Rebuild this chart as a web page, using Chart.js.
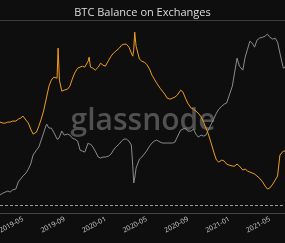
<!DOCTYPE html>
<html>
<head>
<meta charset="utf-8">
<script src="https://cdn.jsdelivr.net/npm/chart.js@4/dist/chart.umd.min.js"></script>
<style>
  html, body { margin: 0; padding: 0; background: #0e0e0e; }
  #wrap { width: 285px; height: 243px; position: relative; }
</style>
</head>
<body>
<div id="wrap"><canvas id="c"></canvas></div>
<script>
// ---- data ----
const chartTitle = 'BTC Balance on Exchanges';
const watermark = 'glassnode';

const dates = [
  '2019-02-13','2019-02-22','2019-03-01','2019-03-08','2019-03-15','2019-03-22',
  '2019-04-01','2019-04-08','2019-04-15','2019-04-22',
  '2019-05-01','2019-05-08','2019-05-15','2019-05-22',
  '2019-06-01','2019-06-08','2019-06-15','2019-06-22',
  '2019-07-01','2019-07-08','2019-07-15','2019-07-22',
  '2019-08-01','2019-08-04','2019-08-08','2019-08-15','2019-08-22',
  '2019-09-01','2019-09-08','2019-09-15','2019-09-22',
  '2019-10-01','2019-10-08','2019-10-15','2019-10-22',
  '2019-11-01','2019-11-04','2019-11-08','2019-11-15','2019-11-22',
  '2019-12-01','2019-12-08','2019-12-15','2019-12-22',
  '2020-01-01','2020-01-08','2020-01-15','2020-01-22',
  '2020-02-01','2020-02-08','2020-02-15','2020-02-22',
  '2020-03-01','2020-03-08','2020-03-12','2020-03-15','2020-03-18','2020-03-22',
  '2020-04-01','2020-04-08','2020-04-15','2020-04-22',
  '2020-05-01','2020-05-08','2020-05-15','2020-05-22',
  '2020-06-01','2020-06-08','2020-06-15','2020-06-22',
  '2020-07-01','2020-07-08','2020-07-15','2020-07-22',
  '2020-08-01','2020-08-08','2020-08-15','2020-08-22',
  '2020-09-01','2020-09-08','2020-09-15','2020-09-22',
  '2020-10-01','2020-10-08','2020-10-15','2020-10-22',
  '2020-11-01','2020-11-08','2020-11-15','2020-11-22',
  '2020-12-01','2020-12-08','2020-12-15','2020-12-22',
  '2021-01-01','2021-01-08','2021-01-15','2021-01-22',
  '2021-02-01','2021-02-08','2021-02-15','2021-02-22',
  '2021-03-01','2021-03-08','2021-03-15','2021-03-22',
  '2021-04-01','2021-04-08','2021-04-15','2021-04-22',
  '2021-05-01','2021-05-08','2021-05-15','2021-05-22',
  '2021-06-01','2021-06-06'
];

// BTC held on exchanges (million BTC)
const balance = [
  2.745,2.740,2.740,2.745,2.745,2.750,
  2.750,2.760,2.765,2.775,
  2.755,2.740,2.710,2.685,
  2.695,2.725,2.760,2.800,
  2.870,2.925,2.955,2.970,
  2.965,3.115,2.955,2.900,2.905,
  2.910,2.925,2.960,2.990,
  3.015,3.020,3.025,3.020,
  3.050,3.070,3.020,3.015,3.005,
  3.020,3.040,3.030,3.025,
  3.055,3.075,3.090,3.100,
  3.115,3.130,3.135,3.135,
  3.120,3.090,3.075,3.105,3.195,3.125,
  3.060,3.050,3.045,3.035,
  3.010,2.980,2.960,2.940,
  2.915,2.900,2.885,2.865,
  2.860,2.865,2.870,2.880,
  2.905,2.895,2.865,2.840,
  2.815,2.810,2.800,2.790,
  2.770,2.745,2.715,2.685,
  2.630,2.590,2.555,2.545,
  2.555,2.550,2.535,2.530,
  2.525,2.525,2.535,2.525,
  2.505,2.510,2.500,2.495,
  2.490,2.485,2.475,2.465,
  2.445,2.425,2.410,2.415,
  2.435,2.455,2.475,2.580,
  2.600,2.600
];

// BTC price (USD)
const price = [
  3600,3730,3790,3860,3790,3930,
  4000,4530,4780,5040,
  5310,5700,6230,7310,
  7980,8420,9530,10790,
  12660,11790,11790,10980,
  9700,9700,10050,11180,10410,
  10600,10410,9870,9700,
  9360,7980,7840,7700,
  9040,8880,8880,8420,7840,
  7050,6930,7050,7050,
  7180,7440,7980,8420,
  8880,9360,9700,9700,
  9360,8720,6120,4450,4860,5800,
  6810,7050,7440,7840,
  8570,9040,9360,9530,
  9200,9040,9040,9040,
  9040,9040,9200,10050,
  11380,11580,11790,11180,
  11180,11580,10600,10050,
  10410,10230,10410,11380,
  12880,14070,15380,16500,
  17400,18030,18350,20770,
  24800,31780,40720,35350,
  32920,41450,47770,55030,
  53120,49500,56010,58030,
  59070,60130,62300,59070,
  57020,58030,54060,44480,
  34120,34730
];

const tickLabels = ['2019-05','2019-09','2020-01','2020-05','2020-09','2021-01','2021-05'];
const dashedLevel = 2.33; // balance level of the dashed guide line
const balanceRange = [2.29, 3.25];
const priceRange = [2615, 78430];

// ---- helpers ----
const DAY = 86400000;
const toDay = s => {
  const p = s.split('-').map(Number);
  return Date.UTC(p[0], p[1] - 1, p[2] || 1) / DAY;
};
const xs = dates.map(toDay);
const tickDays = tickLabels.map(toDay);
const tickMap = {};
tickLabels.forEach((l, i) => { tickMap[tickDays[i]] = l; });

const extras = {
  id: 'extras',
  beforeDatasetsDraw(chart) {
    const { ctx, chartArea: a, scales } = chart;
    ctx.save();
    // watermark
    ctx.fillStyle = 'rgba(100,100,100,0.78)';
    ctx.font = '600 30px "Open Sans"';
    ctx.textAlign = 'center';
    ctx.textBaseline = 'alphabetic';
    ctx.fillText(watermark, (a.left + a.right) / 2 + 0.5, 130);
    // dashed guide
    const y = Math.round(scales.yb.getPixelForValue(dashedLevel)) + 0.5;
    ctx.strokeStyle = '#9a9a9a';
    ctx.lineWidth = 1;
    ctx.setLineDash([3, 2]);
    ctx.beginPath();
    ctx.moveTo(a.left, y);
    ctx.lineTo(a.right, y);
    ctx.stroke();
    ctx.setLineDash([]);
    // top separator
    ctx.strokeStyle = '#3d3d3d';
    ctx.beginPath();
    ctx.moveTo(0, Math.round(a.top) - 0.5);
    ctx.lineTo(chart.width, Math.round(a.top) - 0.5);
    ctx.stroke();
    ctx.restore();
  }
};

new Chart(document.getElementById('c'), {
  type: 'line',
  data: {
    datasets: [
      {
        label: 'Balance on Exchanges',
        data: xs.map((x, i) => ({ x, y: balance[i] })),
        yAxisID: 'yb',
        borderColor: '#f39c1e',
        borderWidth: 1,
        pointRadius: 0,
        tension: 0
      },
      {
        label: 'Price',
        data: xs.map((x, i) => ({ x, y: price[i] })),
        yAxisID: 'yp',
        borderColor: '#8c8c8c',
        borderWidth: 1,
        pointRadius: 0,
        tension: 0
      }
    ]
  },
  options: {
    responsive: true,
    maintainAspectRatio: false,
    animation: false,
    layout: { padding: 0 },
    plugins: {
      legend: { display: false },
      tooltip: { enabled: false },
      title: {
        display: true,
        text: chartTitle,
        color: '#dcdcdc',
        font: { family: '"Open Sans"', size: 11, weight: 'normal' },
        padding: { top: 6, bottom: 2 }
      }
    },
    scales: {
      x: {
        type: 'linear',
        min: xs[0],
        max: xs[xs.length - 1],
        afterBuildTicks: s => { s.ticks = tickDays.map(v => ({ value: v })); },
        afterFit: s => { s.height = 30; },
        grid: { display: false, drawTicks: false },
        border: { display: true, color: '#444444', width: 1 },
        ticks: {
          autoSkip: false,
          minRotation: 28,
          maxRotation: 28,
          padding: 2,
          labelOffset: -3,
          color: '#d0d0d0',
          font: { family: '"Open Sans"', size: 7 },
          callback: v => tickMap[v] || ''
        }
      },
      yb: {
        type: 'linear',
        display: false,
        min: balanceRange[0],
        max: balanceRange[1]
      },
      yp: {
        type: 'logarithmic',
        display: false,
        min: priceRange[0],
        max: priceRange[1]
      }
    }
  },
  plugins: [extras]
});
</script>
</body>
</html>
